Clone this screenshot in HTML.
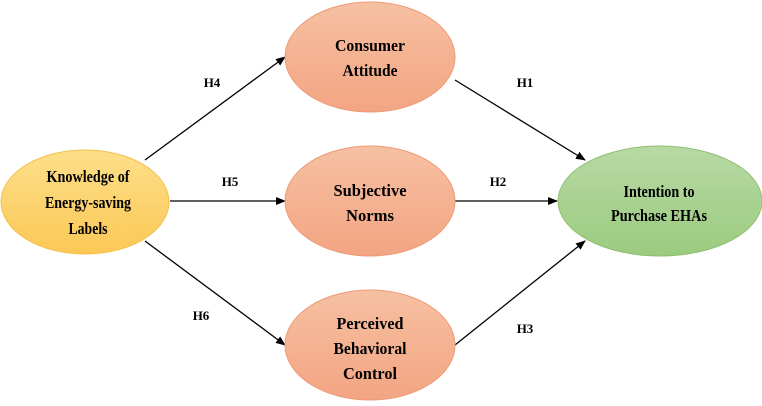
<!DOCTYPE html>
<html><head><style>
html,body{margin:0;padding:0;background:#fff;}
svg text{font-family:"Liberation Serif",serif;font-weight:bold;fill:#000;}
</style></head><body>
<svg width="762" height="401" viewBox="0 0 762 401" xmlns="http://www.w3.org/2000/svg">
<defs>
<linearGradient id="y" x1="0" y1="0" x2="0" y2="1"><stop offset="0" stop-color="#fddf8a"/><stop offset="1" stop-color="#fbc856"/></linearGradient>
<linearGradient id="o" x1="0" y1="0" x2="0" y2="1"><stop offset="0" stop-color="#f6c0a2"/><stop offset="1" stop-color="#f3a582"/></linearGradient>
<linearGradient id="g" x1="0" y1="0" x2="0" y2="1"><stop offset="0" stop-color="#b8d9a4"/><stop offset="1" stop-color="#9bcb7f"/></linearGradient>
<marker id="a" markerWidth="10" markerHeight="8" refX="9" refY="4" orient="auto" markerUnits="userSpaceOnUse"><path d="M0,0 L10,4 L0,8 z" fill="#000"/></marker>
</defs>
<g stroke="#000" stroke-width="1.3" marker-end="url(#a)">
<line x1="145" y1="160" x2="285" y2="57"/>
<line x1="170" y1="201" x2="285" y2="201"/>
<line x1="145" y1="241" x2="285" y2="345"/>
<line x1="455" y1="80" x2="585" y2="160"/>
<line x1="455" y1="201" x2="557" y2="201"/>
<line x1="455" y1="345" x2="585" y2="241"/>
</g>
<ellipse cx="85" cy="202" rx="84" ry="52" fill="url(#y)" stroke="#f5c04f" stroke-width="1"/>
<ellipse cx="370" cy="57" rx="85" ry="55" fill="url(#o)" stroke="#ec9a76" stroke-width="1"/>
<ellipse cx="370" cy="201" rx="85" ry="55" fill="url(#o)" stroke="#ec9a76" stroke-width="1"/>
<ellipse cx="370" cy="345" rx="85" ry="55" fill="url(#o)" stroke="#ec9a76" stroke-width="1"/>
<ellipse cx="660" cy="201" rx="102" ry="55" fill="url(#g)" stroke="#8fbf73" stroke-width="1"/>
<g font-size="17" text-anchor="middle" lengthAdjust="spacingAndGlyphs">
<text x="88" y="182" textLength="83" lengthAdjust="spacingAndGlyphs">Knowledge of</text>
<text x="88" y="208" textLength="86" lengthAdjust="spacingAndGlyphs">Energy-saving</text>
<text x="88" y="234" textLength="39" lengthAdjust="spacingAndGlyphs">Labels</text>
<text x="370" y="51" textLength="70" lengthAdjust="spacingAndGlyphs">Consumer</text>
<text x="370" y="76" textLength="55" lengthAdjust="spacingAndGlyphs">Attitude</text>
<text x="370" y="196" textLength="73" lengthAdjust="spacingAndGlyphs">Subjective</text>
<text x="370" y="221" textLength="48" lengthAdjust="spacingAndGlyphs">Norms</text>
<text x="370" y="329" textLength="67" lengthAdjust="spacingAndGlyphs">Perceived</text>
<text x="370" y="354" textLength="73" lengthAdjust="spacingAndGlyphs">Behavioral</text>
<text x="370" y="379" textLength="54" lengthAdjust="spacingAndGlyphs">Control</text>
<text x="659" y="197" textLength="71" lengthAdjust="spacingAndGlyphs">Intention to</text>
<text x="659" y="221" textLength="96" lengthAdjust="spacingAndGlyphs">Purchase EHAs</text>
</g>
<g font-size="13" text-anchor="middle">
<text x="212" y="87">H4</text>
<text x="525" y="87">H1</text>
<text x="230" y="186">H5</text>
<text x="498" y="186">H2</text>
<text x="201" y="320">H6</text>
<text x="525" y="333">H3</text>
</g>
</svg>
</body></html>
